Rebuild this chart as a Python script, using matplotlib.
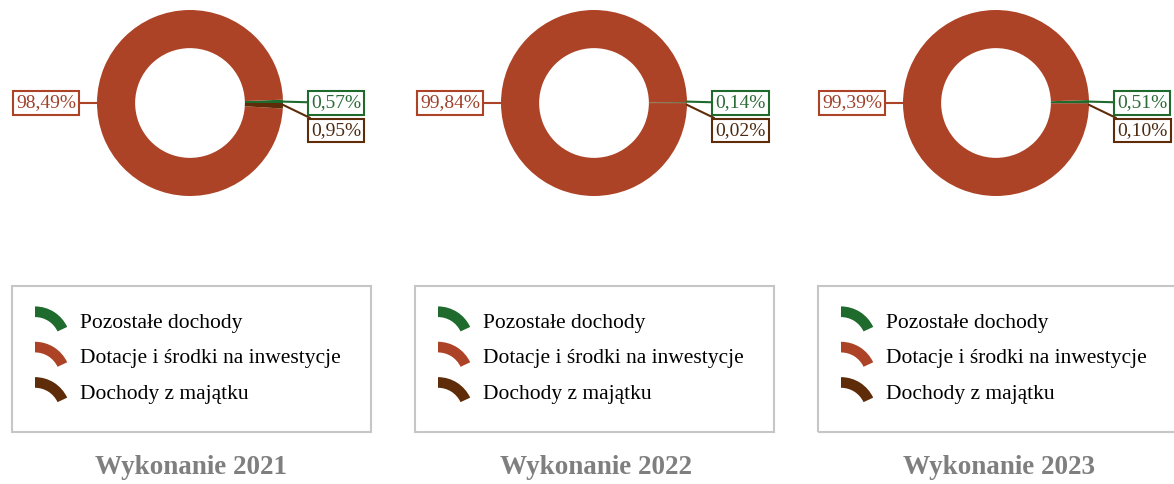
import matplotlib
matplotlib.use('Agg')
import matplotlib.pyplot as plt
from matplotlib.patches import Wedge, Rectangle
from matplotlib.legend_handler import HandlerPatch

plt.rcParams['font.family'] = ['Liberation Serif', 'DejaVu Serif']

W, H = 1174, 484

years = ['2021', '2022', '2023']
categories = ['Pozostałe dochody', 'Dotacje i środki na inwestycje', 'Dochody z majątku']
pozostale = [0.57, 0.14, 0.51]
dotacje = [98.49, 99.84, 99.39]
majatek = [0.95, 0.02, 0.10]

colors = ['#1f6a2d', '#ad4326', '#5e2c08']
text_colors = ['#2b6b36', '#a0402a', '#4d2a10']


def fmt(v):
    return f'{v:.2f}%'.replace('.', ',')


class ArcHandler(HandlerPatch):
    # legend key drawn as a piece of a ring
    def create_artists(self, legend, orig_handle, xdescent, ydescent,
                       width, height, fontsize, trans):
        r = width
        cy = -ydescent + height / 2 - 0.6 * r
        w = Wedge((-xdescent, cy), r, 25, 90, width=0.3 * r,
                  facecolor=orig_handle.get_facecolor(), edgecolor='none')
        w.set_transform(trans)
        return [w]


fig = plt.figure(figsize=(W / 100, H / 100), dpi=100)

panel_cx = [190, 594, 996]
title_cx = [191, 596, 999]
box_x = [12, 415, 818]
R = 93       # outer radius in px
half = 100   # half axes size in px

for i in range(3):
    cx = panel_cx[i]
    ax = fig.add_axes([(cx - half) / W, (H - 103 - half) / H, 2 * half / W, 2 * half / H])
    vals = [pozostale[i], dotacje[i], majatek[i]]
    wedges, _ = ax.pie(vals, colors=colors, startangle=0, counterclock=True,
                       radius=1, wedgeprops=dict(width=0.41, linewidth=0))
    ax.set_xlim(-half / R, half / R)
    ax.set_ylim(-half / R, half / R)
    ax.set_aspect('equal')
    ax.axis('off')

    # labels with boxes
    pos = [(1.30, 0.0, 'left'), (-1.225, 0.0, 'right'), (1.30, -0.295, 'left')]
    mid = [(1.0, 0.015), (-1.0, 0.0), (1.0, -0.02)]
    for k in range(3):
        tx, ty, ha = pos[k]
        ax.annotate(fmt(vals[k]), xy=mid[k], xytext=(tx, ty), ha=ha, va='center',
                    fontsize=14, color=text_colors[k], annotation_clip=False,
                    bbox=dict(boxstyle='square,pad=0.17', facecolor='white',
                              edgecolor=colors[k], linewidth=1.5),
                    arrowprops=dict(arrowstyle='-', color=colors[k], linewidth=1.5,
                                    shrinkA=0, shrinkB=0))

    # legend frame
    fig.add_artist(Rectangle((box_x[i] / W, (H - 432) / H), 359 / W, 146 / H,
                             transform=fig.transFigure, fill=False,
                             edgecolor='#c6c6c6', linewidth=1.5))
    fig.legend(wedges, categories, loc='upper left',
               bbox_to_anchor=((box_x[i] + 23) / W, (H - 311) / H),
               frameon=False, fontsize=15.5, borderpad=0, borderaxespad=0,
               handlelength=1.65, handleheight=1.0, handletextpad=0.42,
               labelspacing=0.62, handler_map={Wedge: ArcHandler()})

    fig.text(title_cx[i] / W, (H - 468) / H, 'Wykonanie ' + years[i],
             ha='center', va='center', fontsize=19.5, fontweight='bold',
             color='#7f7f7f')

fig.savefig('out.png', dpi=100)
